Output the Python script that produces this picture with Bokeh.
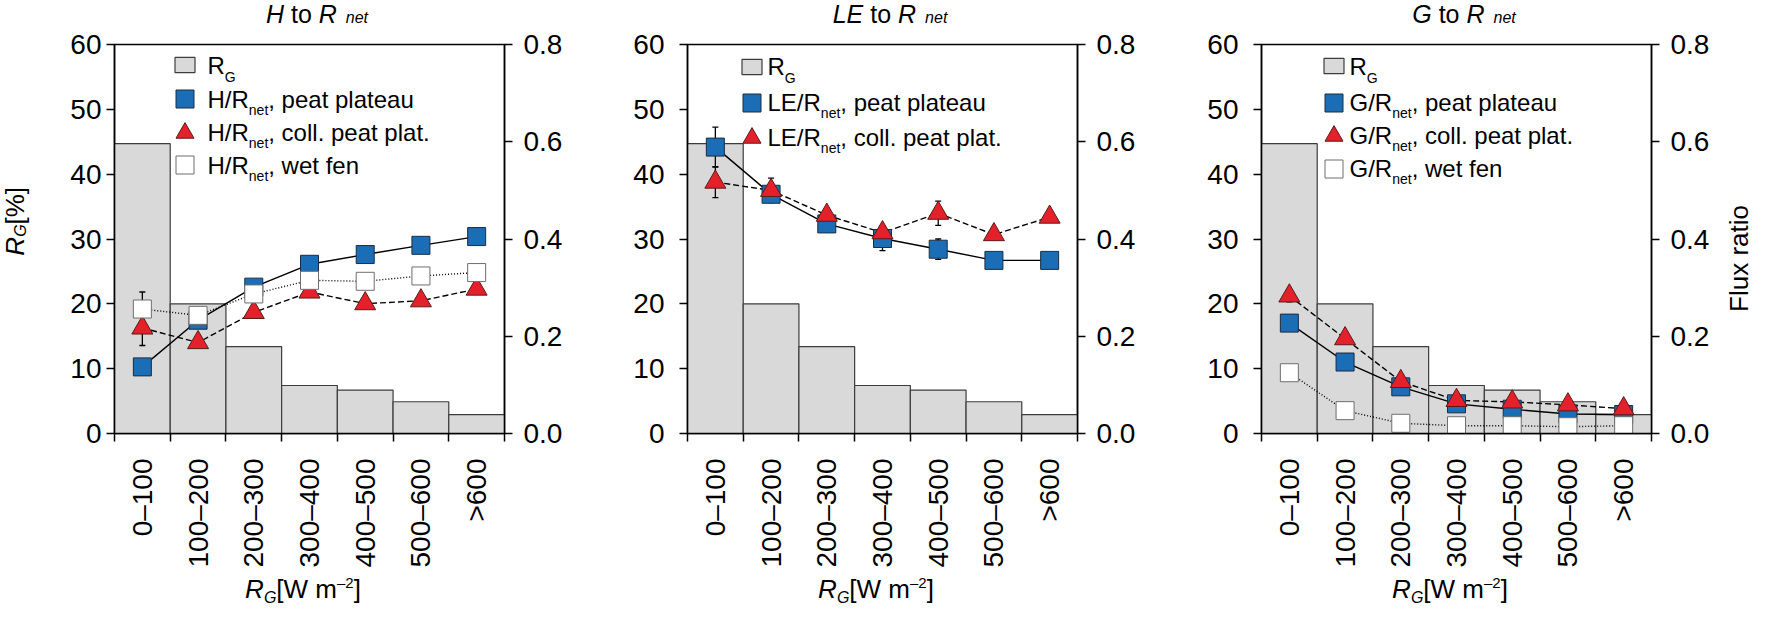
import numpy as np
from bokeh.plotting import figure
from bokeh.models import (LinearAxis, Range1d, FixedTicker, NumeralTickFormatter,
                          Label, Legend, LegendItem, Div)
from bokeh.layouts import row, column
from bokeh.embed import file_html
from bokeh.resources import INLINE

FONT = "Liberation Sans"

# --- data ---
bins = ["0–100", "100–200", "200–300", "300–400", "400–500", "500–600", ">600"]
rg_share = [44.7, 20.0, 13.4, 7.4, 6.7, 4.9, 2.9]          # % of R_G per class (left axis)

# flux ratios (right axis)
h_peat = [0.137, 0.233, 0.301, 0.348, 0.368, 0.387, 0.405]
h_coll = [0.217, 0.187, 0.249, 0.291, 0.267, 0.273, 0.297]
h_fen = [0.256, 0.243, 0.287, 0.315, 0.313, 0.324, 0.331]
h_peat_err = [0.010, 0.008, 0.008, 0.008, 0.006, 0.006, 0.006]
h_coll_err = [0.036, 0.010, 0.008, 0.010, 0.008, 0.008, 0.010]
h_fen_err = [0.035, 0.008, 0.008, 0.006, 0.006, 0.006, 0.006]

le_peat = [0.589, 0.492, 0.431, 0.401, 0.379, 0.356, 0.356]
le_coll = [0.517, 0.500, 0.449, 0.413, 0.453, 0.409, 0.445]
le_peat_err = [0.041, 0.010, 0.010, 0.025, 0.021, 0.008, 0.008]
le_coll_err = [0.032, 0.025, 0.012, 0.012, 0.025, 0.010, 0.010]

g_peat = [0.227, 0.147, 0.096, 0.061, 0.050, 0.040, 0.039]
g_coll = [0.283, 0.195, 0.107, 0.068, 0.065, 0.059, 0.051]
g_fen = [0.125, 0.047, 0.021, 0.016, 0.016, 0.014, 0.016]
g_peat_err = [0.008, 0.006, 0.006, 0.004, 0.004, 0.004, 0.004]
g_coll_err = [0.012, 0.008, 0.006, 0.004, 0.004, 0.004, 0.004]
g_fen_err = [0.006, 0.004, 0.003, 0.003, 0.003, 0.003, 0.003]

FRAME_W, FRAME_H = 390, 389
TITLE_H, XLAB_H, TOP = 28, 38, 16
BOTTOM = 604 - TITLE_H - XLAB_H - TOP - FRAME_H

STYLE = {
    "peat": dict(marker="square", fill="#1b6db5", line="#1c2c40", dash="solid", size=18,
                 label="peat plateau"),
    "coll": dict(marker="triangle", fill="#e4212b", line="#5a1a1a", dash="6 3", size=21,
                 label="coll. peat plat."),
    "fen": dict(marker="square", fill="white", line="#6e6e6e", dash="1 2", size=18,
                label="wet fen"),
}

# Arial / Liberation Sans advance widths (1/1000 em), to lay out mixed-size text
W = {' ': 278, ',': 278, '.': 278, '/': 278, 'E': 667, 'G': 778, 'H': 722, 'L': 556,
     'R': 722, 'a': 556, 'c': 500, 'e': 556, 'f': 278, 'i': 222, 'l': 222, 'n': 556,
     'o': 556, 'p': 556, 't': 278, 'u': 556, 'w': 722}


def text_w(s, size):
    return sum(W.get(c, 556) for c in s) * size / 1000.0


def rich(p, x, y, pieces, dx, base):
    # pieces: (text, px size, baseline shift); base = baseline offset (px, up is +)
    adv = 0.0
    for txt, size, shift in pieces:
        lead = len(txt) - len(txt.lstrip())
        adv += lead * 0.278 * size
        p.add_layout(Label(x=x, y=y, x_offset=dx + adv, y_offset=base + shift + 0.35 * size,
                           text=txt.strip(), text_font=FONT, text_font_size=f"{size}px",
                           text_color="black", text_baseline="middle", text_align="left"))
        adv += text_w(txt.lstrip(), size)


def style_axis(ax, standoff):
    ax.axis_line_width = 1.5
    ax.axis_line_color = "black"
    ax.major_tick_line_width = 1.5
    ax.major_tick_line_color = "black"
    ax.major_tick_out = 8
    ax.major_tick_in = 0
    ax.minor_tick_out = 0
    ax.minor_tick_in = 0
    ax.major_label_text_font = FONT
    ax.major_label_text_font_size = "28px"
    ax.major_label_text_color = "black"
    ax.major_label_standoff = standoff


def place_key(p, renderer, gw, gh, cx, cy):
    # one legend per key, so each symbol sits exactly at its row
    p.add_layout(Legend(items=[LegendItem(label=" ", renderers=[renderer])],
                        location=(cx - gw / 2, FRAME_H - (cy + gh / 2)),
                        glyph_width=gw, glyph_height=gh, label_height=1, label_width=1,
                        label_standoff=0, label_text_font_size="1px", label_text_alpha=0,
                        padding=0, margin=0, border_line_color=None,
                        background_fill_alpha=0), "center")


def html_box(inner, w, h, style):
    return Div(text=f'<div style="box-sizing:border-box;width:{w}px;height:{h}px;'
                    f'font-family:\'{FONT}\';color:black;white-space:nowrap;{style}">'
                    f'{inner}</div>', width=w, height=h, margin=0)


def panel(sym, series, left, right, ystandoff, leg):
    p = figure(frame_width=FRAME_W, frame_height=FRAME_H, x_range=Range1d(0, 7),
               y_range=Range1d(0, 60), output_backend="svg", toolbar_location=None,
               min_border_left=left, min_border_right=right, min_border_top=TOP,
               min_border_bottom=BOTTOM)
    p.extra_y_ranges = {"ratio": Range1d(0, 0.8)}
    p.xgrid.visible = False
    p.ygrid.visible = False
    p.outline_line_color = "black"
    p.outline_line_width = 1.5
    p.background_fill_color = "white"
    p.border_fill_color = "white"

    centers = [i + 0.5 for i in range(len(bins))]
    edges = list(range(len(bins) + 1))

    xa = p.xaxis[0]
    style_axis(xa, 17)
    xa.ticker = FixedTicker(ticks=centers, minor_ticks=edges)
    xa.major_tick_out = 0
    xa.minor_tick_out = 8
    xa.minor_tick_line_width = 1.5
    xa.minor_tick_line_color = "black"
    xa.major_label_overrides = {c: b for c, b in zip(centers, bins)}
    xa.major_label_orientation = np.pi / 2

    ya = p.yaxis[0]
    style_axis(ya, ystandoff)
    ya.ticker = FixedTicker(ticks=[0, 10, 20, 30, 40, 50, 60])

    ra = LinearAxis(y_range_name="ratio")
    style_axis(ra, 11)
    ra.ticker = FixedTicker(ticks=[0.0, 0.2, 0.4, 0.6, 0.8])
    ra.formatter = NumeralTickFormatter(format="0.0")
    p.add_layout(ra, "right")

    bars = p.vbar(x=centers, top=rg_share, width=1, bottom=0, fill_color="#d9d9d9",
                  line_color="#3c3c3c", line_width=1.2)

    for kind, vals, errs in series:
        p.line(centers, vals, y_range_name="ratio", line_color="black", line_width=1.4,
               line_dash=STYLE[kind]["dash"])
    for kind, vals, errs in series:
        lo = np.array(vals) - np.array(errs)
        hi = np.array(vals) + np.array(errs)
        p.segment(x0=centers, x1=centers, y0=lo, y1=hi, y_range_name="ratio",
                  line_color="black", line_width=1.3)
        for end in (lo, hi):
            p.scatter(centers, end, marker="dash", size=6, line_color="black",
                      line_width=1.3, y_range_name="ratio")
    markers = []
    for kind, vals, errs in series:
        st = STYLE[kind]
        r = p.scatter(centers, vals, marker=st["marker"], size=st["size"],
                      fill_color=st["fill"], line_color=st["line"], line_width=1,
                      y_range_name="ratio")
        markers.append((kind, r))

    # legend keys + rich text
    icon_cx, rows, text_x = leg
    place_key(p, bars, 25, 19, icon_cx, rows[0])
    for (_, r), ry in zip(markers, rows[1:]):
        place_key(p, r, 45, 45, icon_cx, ry)
    rich(p, 0, 60, [("R", 24, 0), ("G", 14, -8)], text_x, -(rows[0] + 8.6))
    for (kind, _), ry in zip(markers, rows[1:]):
        rich(p, 0, 60, [(sym + "/R", 24, 0), ("net", 14, -7),
                        (", " + STYLE[kind]["label"], 24, 0)], text_x, -(ry + 8.6))

    width = left + FRAME_W + right
    centre = left + FRAME_W / 2
    title = html_box(
        f'<span style="position:relative;left:{centre + 8 - width / 2:.1f}px">'
        f'<i>{sym}</i> to <i>R</i><span style="font-size:16px;font-style:italic;'
        f'margin-left:9px">net</span></span>',
        width, TITLE_H, "line-height:28px;font-size:25px;text-align:center")
    xlab = html_box(
        f'<span style="position:relative;left:{centre - 6 - width / 2:.1f}px">'
        f'<i>R</i><span style="font-size:16px;font-style:italic;position:relative;top:5px">G</span>'
        f'[W m<span style="font-size:15px;position:relative;top:-10px">–2</span>]</span>',
        width, XLAB_H, "padding-top:4px;line-height:30px;font-size:26px;text-align:center")
    return column(title, p, xlab, spacing=0)


YLAB_W, FLUX_W = 30, 38
c1 = panel("H", [("peat", h_peat, h_peat_err), ("coll", h_coll, h_coll_err),
                 ("fen", h_fen, h_fen_err)], 122 - 8 - YLAB_W, 88, 5,
           (70.5, [20.5, 54.7, 88.0, 120.5], 93))
c2 = panel("LE", [("peat", le_peat, le_peat_err), ("coll", le_coll, le_coll_err)],
           95, 90, 15, (64, [22.0, 58.0, 93.0], 80))
c3 = panel("G", [("peat", g_peat, g_peat_err), ("coll", g_coll, g_coll_err),
                 ("fen", g_fen, g_fen_err)], 94, 103 - FLUX_W, 15,
           (72, [21.3, 58.0, 91.0, 124.0], 88))

vert = "writing-mode:vertical-rl;transform:rotate(180deg);line-height:30px;font-size:26px"
ylab = html_box(f'<span style="{vert}"><i>R</i><span style="font-size:16px;font-style:italic;'
                f'position:relative;left:-6px">G</span>[%]</span>',
                YLAB_W, 442, "display:flex;align-items:center;justify-content:center")
flux = html_box(f'<span style="{vert}">Flux ratio</span>', FLUX_W, 516,
                "display:flex;align-items:center;justify-content:flex-end")

layout = row(ylab, c1, c2, c3, flux, spacing=0)
open("out.html", "w").write(file_html(layout, INLINE))
